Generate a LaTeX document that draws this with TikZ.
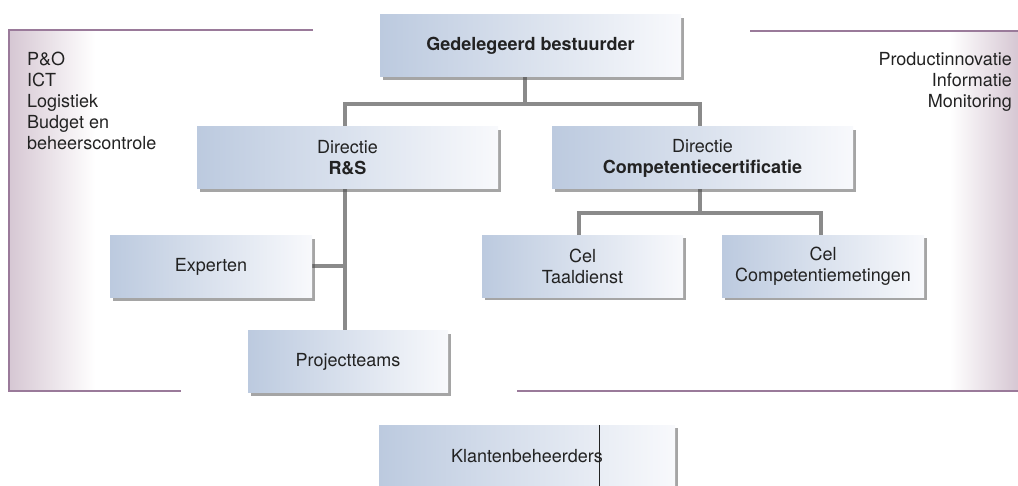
\documentclass[tikz,border=0pt]{standalone}
\usepackage{fontspec}
\setmainfont{TeX Gyre Heros}
\usetikzlibrary{positioning,shadows}
\definecolor{boxleft}{HTML}{BCCADF}
\definecolor{boxright}{HTML}{F8F9FC}
\definecolor{linkgray}{HTML}{8A8A8A}
\definecolor{framepurple}{HTML}{9A7A9A}
\definecolor{fadepurple}{HTML}{D6C7D3}
\definecolor{textdark}{HTML}{222222}

\begin{document}
\begin{tikzpicture}[x=1pt, y=-1pt,
            unitnode/.style={rectangle, left color=boxleft, right color=boxright, inner sep=0pt, minimum height=62pt, align=center, text=textdark, font=\fontsize{18}{21}\selectfont, drop shadow={shadow xshift=3pt, shadow yshift=-3pt, opacity=0.5, fill=black!70}},
            listnode/.style={inner sep=0pt, text=textdark, font=\fontsize{18}{21}\selectfont},
            link/.style={draw=linkgray, line width=3.6pt},
            frameline/.style={draw=framepurple, line width=2pt},
        ]
        \useasboundingbox (0,0) rectangle (1018,486);

        % staff frames
        \fill[left color=fadepurple, right color=white] (9,30) rectangle (95,391);
        \fill[left color=white, right color=fadepurple] (950,31) rectangle (1018,391);
        \draw[frameline] (313,30) -- (9,30) -- (9,391) -- (181,391);
        \draw[frameline] (750,31) -- (1018,31);
        \draw[frameline] (517,391) -- (1018,391);
        \node[listnode, anchor=north west, align=left] (staffleft) at (27,52) {P\&O\\ICT\\Logistiek\\Budget en\\beheerscontrole};
        \node[listnode, anchor=north east, align=right] (staffright) at (1012,52) {Productinnovatie\\Informatie\\Monitoring};

        % connectors
        \coordinate (split) at (525,104);
        \coordinate (ccsplit) at (700,213);
        \draw[link] (525,77) -- (split);
        \draw[link] (345,128) -- (345,104) -- (700,104) -- (700,128);
        \draw[link] (700,188) -- (ccsplit);
        \draw[link] (579,236) -- (579,213) -- (821,213) -- (821,236);
        \draw[link] (345,188) -- (345,331);
        \draw[link] (312,266) -- (345,266);

        % units
        \node[unitnode, minimum width=301pt] (ceo) at (530.5,46) {\textbf{Gedelegeerd bestuurder}};
        \node[unitnode, minimum width=301pt] (rs) at (347.5,158) {Directie\\\textbf{R\&S}};
        \node[unitnode, minimum width=301pt] (cc) at (702.5,158) {Directie\\\textbf{Competentiecertificatie}};
        \node[unitnode, minimum width=201pt] (taal) at (582.5,266.5) {Cel\\Taaldienst};
        \node[unitnode, minimum width=202pt] (meting) at (823,266.5) {Cel\\Competentiemetingen};
        \node[unitnode, minimum width=202pt] (experts) at (211,267) {Experten};
        \node[unitnode, minimum width=200pt] (teams) at (348,362) {Projectteams};
        \node[unitnode, minimum width=296pt] (klant) at (527,456) {Klantenbeheerders};
        \draw[textdark, line width=0.6pt] ([xshift=72pt]klant.north) -- ([xshift=72pt]klant.south);
    \end{tikzpicture}
\end{document}
